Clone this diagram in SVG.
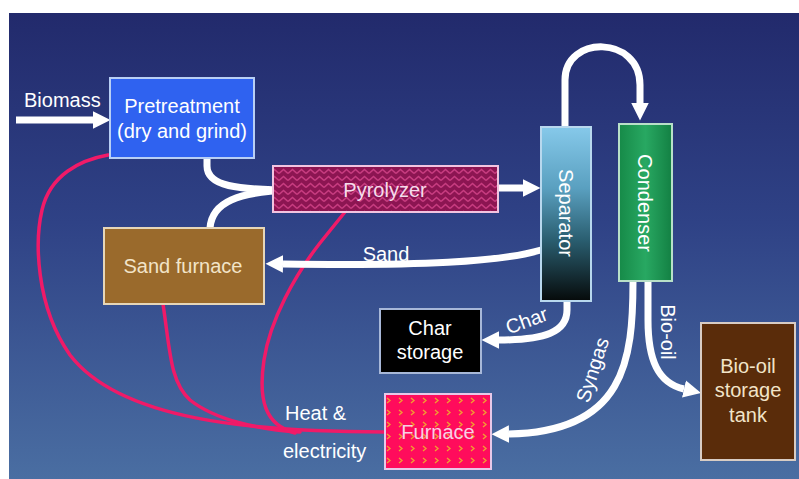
<svg xmlns="http://www.w3.org/2000/svg" width="799" height="479" viewBox="0 0 799 479">
<defs>
<linearGradient id="bg" x1="0" y1="0" x2="0" y2="1">
<stop offset="0" stop-color="#222a6c"/>
<stop offset="0.45" stop-color="#2f4286"/>
<stop offset="1" stop-color="#4a6ea2"/>
</linearGradient>
<linearGradient id="sepG" x1="0" y1="0" x2="0" y2="1">
<stop offset="0" stop-color="#86c9ea"/>
<stop offset="0.35" stop-color="#5aa0c0"/>
<stop offset="0.65" stop-color="#2a5e70"/>
<stop offset="1" stop-color="#060a0a"/>
</linearGradient>
<linearGradient id="conG" x1="0" y1="0" x2="1" y2="0">
<stop offset="0" stop-color="#168a48"/>
<stop offset="0.5" stop-color="#28a862"/>
<stop offset="1" stop-color="#138043"/>
</linearGradient>
<pattern id="zig" width="9" height="7" patternUnits="userSpaceOnUse">
<rect width="9" height="7" fill="#8c1552"/>
<polyline points="0,5.5 4.5,1.5 9,5.5" fill="none" stroke="#c83c80" stroke-width="1.6"/>
</pattern>
<pattern id="dots" width="12" height="12" patternUnits="userSpaceOnUse">
<rect width="12" height="12" fill="#ff0c5c"/>
<polyline points="3,2 6,4.5 3,7" fill="none" stroke="#f0a030" stroke-width="1.3"/>
</pattern>
<marker id="ah" viewBox="0 0 10 10" refX="0" refY="5" markerWidth="2.5" markerHeight="2.9" orient="auto" markerUnits="strokeWidth">
<path d="M0,0 L10,5 L0,10 Z" fill="#ffffff"/>
</marker>
<style>
text{font-family:"Liberation Sans",Arial,sans-serif;font-size:20px;fill:#ffffff}
.c{text-anchor:middle}
.flow{fill:none;stroke:#ffffff;stroke-width:7}
.heat{fill:none;stroke:#f01a68;stroke-width:3.5;stroke-linecap:round}
.cream{fill:#f2e4c8}
</style>
</defs>
<rect width="799" height="479" fill="#ffffff"/>
<rect x="9" y="13" width="790" height="466" fill="url(#bg)"/>

<g id="heat-lines">
<path class="heat" d="M385,432 C250,432 120,420 70,355 C35,305 35,240 42,210 C50,175 80,160 108,155"/>
<path class="heat" d="M163,304 C170,350 170,382 190,400 C215,420 260,430 300,432"/>
<path class="heat" d="M345,212 L320,243 C295,275 270,320 264,360 C258,400 265,425 295,433"/>
</g>

<g id="connectors">
<path class="flow" d="M16,120 H93" marker-end="url(#ah)"/>
<path class="flow" d="M207,158 V166 C207,186 235,190 296,190" marker-end="url(#ah)"/>
<path class="flow" d="M210,228 C212,202 238,192 290,190"/>
<path class="flow" d="M477,188 H523" marker-end="url(#ah)"/>
<path class="flow" d="M565,126 V80 C565,35 640,35 640,85 V103" marker-end="url(#ah)"/>
<path class="flow" d="M541,250 C500,262 420,266 283,264" marker-end="url(#ah)"/>
<path class="flow" d="M567,301 V310 C567,332 545,340 499,340" marker-end="url(#ah)"/>
<path class="flow" d="M633,281 C633,360 625,432 509,434" marker-end="url(#ah)"/>
<path class="flow" d="M648,281 V320 C648,360 658,383 684,389" marker-end="url(#ah)"/>
</g>

<g id="pretreatment">
<rect x="110" y="78" width="144" height="80" fill="#2f62f0" stroke="#b8cff5" stroke-width="2"/>
<text class="c" x="182" y="113">Pretreatment</text>
<text class="c" x="182" y="138">(dry and grind)</text>
</g>
<g id="pyrolyzer">
<rect x="273" y="166" width="225" height="46" fill="url(#zig)" stroke="#f2c4e0" stroke-width="2"/>
<text class="c" x="385" y="197" style="fill:#f6dcec">Pyrolyzer</text>
</g>
<g id="separator">
<rect x="541" y="127" width="50" height="174" fill="url(#sepG)" stroke="#b8d8ee" stroke-width="2"/>
<text class="c" transform="translate(559,213) rotate(90)">Separator</text>
</g>
<g id="condenser">
<rect x="619" y="124" width="53" height="157" fill="url(#conG)" stroke="#b8e0c8" stroke-width="2"/>
<text class="c" transform="translate(638,203) rotate(90)">Condenser</text>
</g>
<g id="sand-furnace">
<rect x="104" y="228" width="160" height="76" fill="#9a6a2c" stroke="#e6d6b8" stroke-width="2"/>
<text class="c cream" x="183" y="273">Sand furnace</text>
</g>
<g id="char-storage">
<rect x="380" y="309" width="101" height="64" fill="#000000" stroke="#a8b8d8" stroke-width="2"/>
<text class="c" x="430" y="335">Char</text>
<text class="c" x="430" y="359">storage</text>
</g>
<g id="furnace">
<rect x="385" y="394" width="106" height="75" fill="url(#dots)" stroke="#e8c8e8" stroke-width="2"/>
<text class="c" x="438" y="439" style="fill:#f8d0e4">Furnace</text>
</g>
<g id="bio-oil-tank">
<rect x="701" y="323" width="94" height="137" fill="#5a2c0a" stroke="#d8ccc4" stroke-width="2"/>
<text class="c cream" x="748" y="373">Bio-oil</text>
<text class="c cream" x="748" y="397">storage</text>
<text class="c cream" x="748" y="422">tank</text>
</g>

<g id="labels">
<text x="24" y="107">Biomass</text>
<text class="c" x="386" y="261">Sand</text>
<text class="c" transform="translate(529,327) rotate(-20)">Char</text>
<text class="c" transform="translate(599,372) rotate(-72)">Syngas</text>
<text class="c" transform="translate(661,332) rotate(90)">Bio-oil</text>
<text x="285" y="420">Heat &amp;</text>
<text x="283" y="458">electricity</text>
</g>
</svg>
